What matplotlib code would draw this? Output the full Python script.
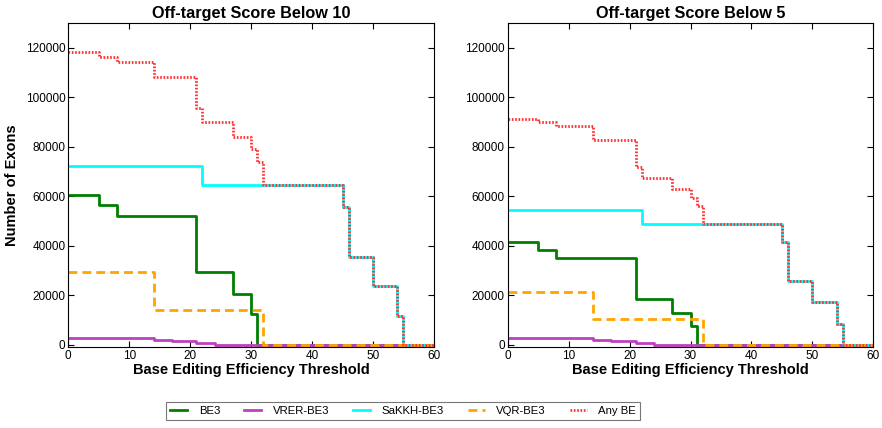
import matplotlib
matplotlib.use("Agg")
import matplotlib.pyplot as plt

plt.rcParams['font.family'] = ['Liberation Sans', 'DejaVu Sans']

titles = ["Off-target Score Below 10", "Off-target Score Below 5"]
series_names = ["BE3", "VRER-BE3", "SaKKH-BE3", "VQR-BE3", "Any BE"]

# Step breakpoints (threshold) and values (number of exons), panel 1: score below 10
p1_be3_x = [0, 5, 8, 21, 27, 30, 31, 60]
p1_be3_y = [60700, 56600, 51900, 29300, 20400, 12400, 0, 0]
p1_vrer_x = [0, 14, 17, 21, 24, 60]
p1_vrer_y = [2800, 2000, 1350, 700, 0, 0]
p1_sakkh_x = [0, 22, 45, 46, 50, 54, 55, 60]
p1_sakkh_y = [72200, 64400, 55700, 35400, 23600, 11700, 0, 0]
p1_vqr_x = [0, 14, 32, 60]
p1_vqr_y = [29300, 14200, 0, 0]
p1_any_x = [0, 5, 8, 14, 21, 22, 27, 30, 31, 32, 45, 46, 50, 54, 55, 60]
p1_any_y = [118200, 116500, 114200, 108400, 95500, 90100, 84000, 79300, 73900,
            64400, 55700, 35400, 23600, 11700, 0, 0]

# panel 2: score below 5
p2_be3_x = [0, 5, 8, 21, 27, 30, 31, 60]
p2_be3_y = [41300, 38400, 35100, 18600, 12600, 7600, 0, 0]
p2_vrer_x = [0, 14, 17, 21, 24, 60]
p2_vrer_y = [2800, 2000, 1400, 700, 0, 0]
p2_sakkh_x = [0, 22, 45, 46, 50, 54, 55, 60]
p2_sakkh_y = [54400, 48800, 41300, 25800, 17300, 8500, 0, 0]
p2_vqr_x = [0, 14, 32, 60]
p2_vqr_y = [21300, 10250, 0, 0]
p2_any_x = [0, 5, 8, 14, 21, 22, 27, 30, 31, 32, 45, 46, 50, 54, 55, 60]
p2_any_y = [91300, 90000, 88200, 82800, 72000, 67300, 62950, 59200, 56200,
            48800, 41300, 25800, 17300, 8500, 0, 0]

panels = [
    [(p1_be3_x, p1_be3_y), (p1_vrer_x, p1_vrer_y), (p1_sakkh_x, p1_sakkh_y),
     (p1_vqr_x, p1_vqr_y), (p1_any_x, p1_any_y)],
    [(p2_be3_x, p2_be3_y), (p2_vrer_x, p2_vrer_y), (p2_sakkh_x, p2_sakkh_y),
     (p2_vqr_x, p2_vqr_y), (p2_any_x, p2_any_y)],
]

styles = [
    dict(color='#007f00', linestyle='-', linewidth=2.0),
    dict(color='#bf40bf', linestyle='-', linewidth=2.0),
    dict(color='#00ffff', linestyle='-', linewidth=2.0),
    dict(color='#ffa500', linestyle=(0, (3.2, 1.8)), linewidth=2.0),
    dict(color='#ff3030', linestyle=(0, (0.6, 0.6)), linewidth=2.0),
]

fig = plt.figure(figsize=(8.82, 4.28), dpi=100)
axes_pos = [[0.0774, 0.189, 0.4146, 0.757], [0.5756, 0.189, 0.4146, 0.757]]

handles = []
for i, (pos, data) in enumerate(zip(axes_pos, panels)):
    ax = fig.add_axes(pos)
    for j, ((xs, ys), st) in enumerate(zip(data, styles)):
        h, = ax.step(xs, ys, where='post', label=series_names[j], **st)
        if i == 0:
            handles.append(h)
    ax.set_xlim(0, 60)
    ax.set_ylim(-1000, 130000)
    ax.set_xticks(range(0, 61, 10))
    ax.set_yticks(range(0, 120001, 20000))
    ax.tick_params(direction='in', top=True, right=True, labelsize=8.5, length=4,
                   width=0.8, pad=2)
    for s in ax.spines.values():
        s.set_linewidth(0.8)
    ax.set_title(titles[i], fontsize=11.7, fontweight='bold', pad=4)
    ax.set_xlabel("Base Editing Efficiency Threshold", fontsize=10.5, fontweight='bold', labelpad=1)
    if i == 0:
        ax.set_ylabel("Number of Exons", fontsize=10.5, fontweight='bold', labelpad=5)

leg = fig.legend(handles=handles, loc='center', bbox_to_anchor=(0.457, 0.04), ncol=5,
                 frameon=True, fancybox=False, edgecolor='#555555', fontsize=8.2,
                 handlelength=1.5, columnspacing=2.1, handletextpad=1.0,
                 borderpad=0.35)
leg.get_frame().set_linewidth(0.8)

fig.savefig("out.png", dpi=100)
